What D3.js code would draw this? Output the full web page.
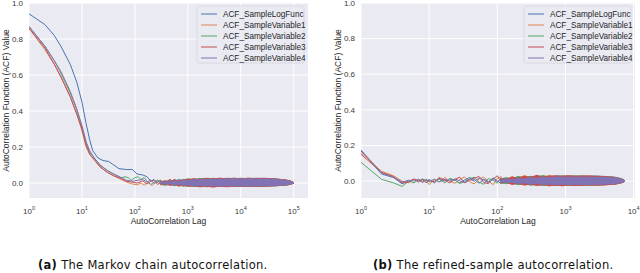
<!DOCTYPE html>
<html>
<head>
<meta charset="utf-8">
<script src="https://cdn.jsdelivr.net/npm/d3@7"></script>
<style>
  body { margin: 0; background: #fff; }
  svg { display: block; font-family: "Liberation Sans", Arial, sans-serif; }
</style>
</head>
<body>
<svg id="chart" width="640" height="273"></svg>
<script>
// Series names and colours (seaborn "deep")
const seriesNames = ["ACF_SampleLogFunc", "ACF_SampleVariable1", "ACF_SampleVariable2", "ACF_SampleVariable3", "ACF_SampleVariable4"];
const seriesColors = ["#4c72b0", "#dd8452", "#55a868", "#c44e52", "#8172b3"];
const yTicks = [0.0, 0.2, 0.4, 0.6, 0.8, 1.0];

// (a) Markov chain: low-lag part of each series
const chainLags = [
  [1, 2, 3, 4, 6, 8, 10, 12, 14, 16, 20, 25, 32, 40, 50, 70, 90, 110, 140, 170, 200, 230, 260, 300, 350, 400, 460],
  [1, 2, 3, 4, 6, 8, 10, 12, 14, 17, 22, 30, 40, 55, 70, 90, 110, 130, 150, 180, 210, 240, 270, 310, 360, 420, 480],
  [1, 2, 3, 4, 6, 8, 10, 12, 14, 17, 22, 30, 40, 55, 65, 75, 85, 100, 115, 130, 150, 170, 200, 230, 270, 320, 380, 450],
  [1, 2, 3, 4, 6, 8, 10, 12, 14, 17, 22, 30, 40, 55, 70, 90, 110, 140, 170, 200, 230, 270, 310, 360, 420, 480],
  [1, 2, 3, 4, 6, 8, 10, 12, 14, 17, 22, 30, 40, 55, 70, 90, 110, 140, 170, 200, 230, 270, 310, 360, 420, 480]
];
const chainAcf = [
  [0.94, 0.88, 0.82, 0.76, 0.66, 0.56, 0.45, 0.33, 0.24, 0.18, 0.14, 0.125, 0.12, 0.10, 0.08, 0.075, 0.075, 0.05, 0.045, 0.035, 0.01, 0.02, 0.004, 0.015, -0.008, 0.006, 0.018],
  [0.86, 0.74, 0.66, 0.59, 0.48, 0.39, 0.29, 0.20, 0.16, 0.13, 0.09, 0.06, 0.04, 0.02, 0.005, -0.005, -0.01, 0.0, -0.012, 0.005, -0.015, 0.002, 0.012, -0.01, 0.015, -0.002, -0.012],
  [0.87, 0.76, 0.68, 0.61, 0.50, 0.41, 0.31, 0.22, 0.17, 0.14, 0.10, 0.07, 0.05, 0.03, 0.035, 0.03, 0.015, 0.03, 0.035, 0.02, 0.03, 0.01, -0.008, 0.004, 0.018, -0.012, 0.002, 0.014],
  [0.86, 0.75, 0.66, 0.59, 0.48, 0.38, 0.30, 0.21, 0.16, 0.13, 0.09, 0.06, 0.04, 0.025, 0.01, 0.005, 0.0, 0.012, -0.005, 0.01, 0.016, -0.008, 0.004, -0.012, 0.014, 0.02],
  [0.87, 0.76, 0.68, 0.62, 0.51, 0.41, 0.32, 0.23, 0.18, 0.14, 0.10, 0.07, 0.05, 0.03, 0.015, 0.01, 0.015, 0.02, 0.005, 0.018, -0.002, 0.006, 0.016, -0.004, 0.008, 0.015]
];
// (a) dense noise band at large lags: upper / lower edge per series
const chainBandLags = [300, 380, 460, 560, 680, 820, 1000, 1300, 1700, 2200, 3000, 4000, 5500, 7500, 10000, 14000, 20000, 28000, 40000, 55000, 72000, 88000, 100000];
const chainBandHi = [
  [0.012, 0.006, 0.018, 0.01, 0.022, 0.014, 0.024, 0.018, 0.026, 0.022, 0.028, 0.024, 0.029, 0.026, 0.028, 0.025, 0.03, 0.026, 0.027, 0.023, 0.019, 0.013, 0.005],
  [0.01, 0.016, 0.008, 0.02, 0.012, 0.024, 0.016, 0.027, 0.02, 0.028, 0.024, 0.03, 0.025, 0.029, 0.026, 0.03, 0.025, 0.028, 0.025, 0.022, 0.02, 0.012, 0.005],
  [0.014, 0.008, 0.02, 0.012, 0.018, 0.02, 0.026, 0.02, 0.028, 0.024, 0.03, 0.025, 0.028, 0.027, 0.03, 0.026, 0.028, 0.027, 0.026, 0.024, 0.018, 0.013, 0.005],
  [0.008, 0.014, 0.01, 0.022, 0.014, 0.02, 0.022, 0.026, 0.022, 0.03, 0.025, 0.029, 0.027, 0.03, 0.026, 0.029, 0.028, 0.029, 0.026, 0.023, 0.02, 0.014, 0.005],
  [0.006, 0.01, 0.007, 0.015, 0.011, 0.018, 0.016, 0.022, 0.02, 0.024, 0.023, 0.025, 0.024, 0.026, 0.025, 0.026, 0.025, 0.025, 0.024, 0.021, 0.017, 0.012, 0.004]
];
const chainBandLo = [
  [-0.006, -0.012, -0.008, -0.016, -0.01, -0.018, -0.014, -0.02, -0.017, -0.022, -0.019, -0.022, -0.02, -0.021, -0.02, -0.021, -0.02, -0.019, -0.018, -0.016, -0.013, -0.009, -0.003],
  [-0.012, -0.006, -0.016, -0.01, -0.02, -0.014, -0.022, -0.017, -0.024, -0.019, -0.023, -0.021, -0.022, -0.02, -0.022, -0.02, -0.021, -0.02, -0.018, -0.016, -0.014, -0.009, -0.003],
  [-0.008, -0.015, -0.01, -0.018, -0.012, -0.02, -0.016, -0.022, -0.018, -0.023, -0.02, -0.022, -0.021, -0.022, -0.02, -0.021, -0.021, -0.019, -0.019, -0.016, -0.013, -0.009, -0.003],
  [-0.01, -0.006, -0.014, -0.012, -0.018, -0.013, -0.021, -0.018, -0.022, -0.02, -0.024, -0.02, -0.023, -0.021, -0.022, -0.021, -0.02, -0.02, -0.018, -0.017, -0.013, -0.009, -0.003],
  [-0.004, -0.008, -0.006, -0.012, -0.009, -0.014, -0.013, -0.016, -0.016, -0.018, -0.018, -0.019, -0.018, -0.019, -0.019, -0.019, -0.018, -0.018, -0.017, -0.015, -0.012, -0.008, -0.002]
];

// (b) refined sample
const refinedLags = [1, 2, 3, 4, 5, 6, 7, 8, 9, 10, 12, 14, 17, 20, 24, 28, 33, 39, 46, 54, 63, 74, 87, 100, 115];
const refinedAcf = [
  [0.17, 0.04, 0.02, -0.015, 0.0, 0.01, -0.005, 0.012, 0.0, 0.008, -0.01, 0.015, 0.0, 0.012, 0.004, -0.01, 0.006, 0.02, 0.008, -0.012, 0.01, -0.004, 0.018, 0.002, -0.015],
  [0.16, 0.055, 0.03, 0.0, -0.01, 0.01, 0.0, -0.005, 0.005, -0.02, 0.01, -0.005, 0.02, 0.0, -0.012, 0.008, 0.024, -0.004, -0.016, 0.012, 0.022, 0.0, -0.02, 0.016, 0.026],
  [0.105, 0.01, -0.01, -0.03, 0.0, -0.01, 0.01, 0.0, 0.012, -0.005, 0.0, 0.01, -0.01, 0.015, 0.006, -0.014, -0.002, 0.012, 0.022, -0.006, -0.018, 0.014, 0.004, -0.012, 0.02],
  [0.15, 0.05, 0.025, -0.01, -0.005, 0.012, 0.0, 0.01, -0.01, 0.005, -0.005, 0.02, 0.005, -0.01, 0.01, 0.022, -0.01, 0.004, 0.016, 0.026, -0.008, -0.014, 0.012, 0.03, -0.006],
  [0.175, 0.045, 0.02, -0.005, 0.005, 0.0, 0.01, -0.008, 0.005, 0.0, 0.01, -0.005, 0.01, 0.0, 0.012, 0.002, -0.008, 0.01, 0.0, 0.016, 0.006, -0.01, 0.012, -0.004, 0.015]
];
const refinedBandLags = [110, 135, 165, 200, 250, 310, 380, 470, 580, 720, 900, 1100, 1400, 1800, 2300, 2900, 3600, 4400, 5300, 6200, 7000, 7400];
const refinedBandHi = [
  [0.012, 0.02, 0.014, 0.026, 0.018, 0.03, 0.022, 0.032, 0.026, 0.033, 0.028, 0.032, 0.03, 0.032, 0.029, 0.031, 0.028, 0.027, 0.024, 0.019, 0.012, 0.004],
  [0.02, 0.012, 0.028, 0.016, 0.034, 0.02, 0.03, 0.024, 0.035, 0.027, 0.032, 0.03, 0.033, 0.029, 0.032, 0.028, 0.03, 0.026, 0.023, 0.018, 0.011, 0.004],
  [0.014, 0.022, 0.012, 0.03, 0.02, 0.028, 0.026, 0.034, 0.025, 0.03, 0.031, 0.028, 0.031, 0.03, 0.03, 0.03, 0.027, 0.027, 0.022, 0.019, 0.012, 0.004],
  [0.018, 0.014, 0.024, 0.02, 0.03, 0.024, 0.036, 0.026, 0.03, 0.032, 0.03, 0.033, 0.029, 0.031, 0.031, 0.029, 0.029, 0.026, 0.024, 0.018, 0.012, 0.004],
  [0.008, 0.014, 0.01, 0.018, 0.015, 0.022, 0.019, 0.025, 0.022, 0.026, 0.024, 0.026, 0.025, 0.026, 0.025, 0.025, 0.024, 0.023, 0.021, 0.016, 0.01, 0.003]
];
const refinedBandLo = [
  [-0.01, -0.016, -0.012, -0.02, -0.016, -0.024, -0.019, -0.026, -0.022, -0.027, -0.024, -0.026, -0.025, -0.026, -0.024, -0.025, -0.023, -0.022, -0.019, -0.015, -0.01, -0.003],
  [-0.016, -0.01, -0.022, -0.014, -0.026, -0.018, -0.028, -0.022, -0.03, -0.024, -0.028, -0.026, -0.028, -0.025, -0.027, -0.024, -0.025, -0.022, -0.019, -0.015, -0.01, -0.003],
  [-0.012, -0.018, -0.01, -0.024, -0.016, -0.026, -0.021, -0.028, -0.024, -0.027, -0.026, -0.025, -0.027, -0.024, -0.026, -0.024, -0.024, -0.021, -0.019, -0.014, -0.01, -0.003],
  [-0.014, -0.01, -0.02, -0.016, -0.024, -0.02, -0.026, -0.024, -0.028, -0.026, -0.029, -0.025, -0.027, -0.026, -0.025, -0.026, -0.023, -0.022, -0.02, -0.015, -0.01, -0.003],
  [-0.006, -0.011, -0.009, -0.016, -0.013, -0.019, -0.017, -0.021, -0.02, -0.022, -0.021, -0.022, -0.022, -0.022, -0.022, -0.021, -0.021, -0.019, -0.017, -0.013, -0.008, -0.002]
];

const svg = d3.select("#chart");

function drawPanel(opts) {
  const { left, right, top, bottom, xMax, yMin, xTicks, lags, acf, bandLags, bandHi, bandLo, caption, captionX, tag } = opts;

  const x = d3.scaleLog().domain([1, xMax]).range([left, right]);
  const y = d3.scaleLinear().domain([yMin, 1.0]).range([bottom, top]);

  const g = svg.append("g");
  const clipId = "clip-" + tag;
  g.append("clipPath").attr("id", clipId)
    .append("rect").attr("x", left).attr("y", top).attr("width", right - left).attr("height", bottom - top);

  g.append("rect")
    .attr("x", left).attr("y", top)
    .attr("width", right - left).attr("height", bottom - top)
    .attr("fill", "#eaeaf2");

  // grid
  g.selectAll(".gx").data(xTicks).enter().append("line")
    .attr("x1", d => x(d)).attr("x2", d => x(d))
    .attr("y1", top).attr("y2", bottom)
    .attr("stroke", "#fff").attr("stroke-width", 1);
  g.selectAll(".gy").data(yTicks).enter().append("line")
    .attr("x1", left).attr("x2", right)
    .attr("y1", d => y(d)).attr("y2", d => y(d))
    .attr("stroke", "#fff").attr("stroke-width", 1);

  // tick labels
  const xl = g.selectAll(".xl").data(xTicks).enter().append("text")
    .attr("x", d => x(d)).attr("y", bottom + 16)
    .attr("text-anchor", "middle")
    .style("font-size", "8px").attr("fill", "#3a3a3a");
  xl.append("tspan").text("10");
  xl.append("tspan").attr("dy", -4).style("font-size", "5.5px").text(d => Math.round(Math.log10(d)));

  g.selectAll(".yl").data(yTicks).enter().append("text")
    .attr("x", left - 6).attr("y", d => y(d)).attr("dy", "0.35em")
    .attr("text-anchor", "end")
    .style("font-size", "8px").attr("fill", "#3a3a3a")
    .text(d3.format(".1f"));

  // axis titles
  g.append("text")
    .attr("transform", `translate(${left - 20},${(top + bottom) / 2}) rotate(-90)`)
    .attr("text-anchor", "middle")
    .style("font-size", "8.5px").attr("fill", "#262626")
    .text("AutoCorrelation Function (ACF) Value");
  g.append("text")
    .attr("x", (left + right) / 2).attr("y", bottom + 26)
    .attr("text-anchor", "middle")
    .style("font-size", "8.5px").attr("fill", "#262626")
    .text("AutoCorrelation Lag");

  // series
  const plot = g.append("g").attr("clip-path", `url(#${clipId})`);
  const line = d3.line().x(d => x(d[0])).y(d => y(d[1]));
  const area = d3.area().x(d => x(d[0])).y0(d => y(d[2])).y1(d => y(d[1]));

  seriesNames.forEach((name, i) => {
    const lagList = Array.isArray(lags[0]) ? lags[i] : lags;
    const pts = lagList.map((l, j) => [l, acf[i][j]]);
    const band = bandLags.map((l, j) => [l, bandHi[i][j], bandLo[i][j]]);
    const s = plot.append("g");
    s.append("path").datum(band).attr("d", area)
      .attr("fill", seriesColors[i]).attr("stroke", "none");
    s.append("path").datum(pts).attr("d", line)
      .attr("fill", "none").attr("stroke", seriesColors[i])
      .attr("stroke-width", 1).attr("stroke-linejoin", "round");
  });

  // legend
  const lgW = 107, lgH = 57;
  const lg = g.append("g").attr("transform", `translate(${right - lgW - 4},${top + 3})`);
  lg.append("rect").attr("width", lgW).attr("height", lgH).attr("rx", 2)
    .attr("fill", "#eaeaf2").attr("fill-opacity", 0.8).attr("stroke", "#d6d6de").attr("stroke-width", 0.8);
  const items = lg.selectAll(".li").data(seriesNames).enter().append("g")
    .attr("transform", (d, i) => `translate(0,${8 + i * 11})`);
  items.append("line").attr("x1", 4).attr("x2", 20).attr("y1", 0).attr("y2", 0)
    .attr("stroke", (d, i) => seriesColors[i]).attr("stroke-width", 1);
  items.append("text").attr("x", 26).attr("y", 0).attr("dy", "0.35em")
    .style("font-size", "8.2px").attr("fill", "#262626").text(d => d);

  // caption
  const cap = svg.append("text")
    .attr("x", captionX).attr("y", 269)
    .style("font-family", "'DejaVu Sans', sans-serif").style("font-size", "11.5px")
    .style("letter-spacing", "0.3px").attr("fill", "#111");
  cap.append("tspan").style("font-weight", "bold").text(`(${tag})`);
  cap.append("tspan").text(" " + caption);
}

drawPanel({
  tag: "a", left: 29, right: 308, top: 3, bottom: 198,
  xMax: Math.pow(10, 5.27), yMin: -0.083,
  xTicks: [1, 10, 100, 1000, 10000, 100000],
  lags: chainLags, acf: chainAcf,
  bandLags: chainBandLags, bandHi: chainBandHi, bandLo: chainBandLo,
  caption: "The Markov chain autocorrelation.", captionX: 38
});

drawPanel({
  tag: "b", left: 361, right: 635, top: 3, bottom: 198,
  xMax: Math.pow(10, 4.02), yMin: -0.095,
  xTicks: [1, 10, 100, 1000, 10000],
  lags: refinedLags, acf: refinedAcf,
  bandLags: refinedBandLags, bandHi: refinedBandHi, bandLo: refinedBandLo,
  caption: "The refined-sample autocorrelation.", captionX: 373
});
</script>
</body>
</html>
